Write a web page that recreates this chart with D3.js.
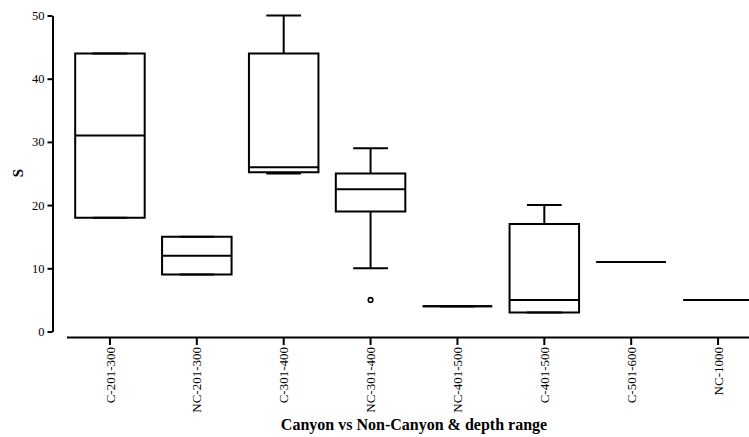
<!DOCTYPE html>
<html>
<head>
<meta charset="utf-8">
<script src="https://cdn.jsdelivr.net/npm/d3@7"></script>
<style>
  body { margin: 0; background: #fff; }
  svg { display: block; }
  .axis text { font-family: "Liberation Serif", "Times New Roman", serif; fill: #000; }
</style>
</head>
<body>
<svg id="chart" width="749" height="437"></svg>
<script>
// values
const groups = ["C-201-300", "NC-201-300", "C-301-400", "NC-301-400", "NC-401-500", "C-401-500", "C-501-600", "NC-1000"];
const lowWhisker = [18, 9, 25, 10, 4, 3, 11, 5];
const q1 = [18, 9, 25.2, 19, 4, 3, 11, 5];
const medians = [31, 12, 26, 22.5, 4, 5, 11, 5];
const q3 = [44, 15, 44, 25, 4, 17, 11, 5];
const highWhisker = [44, 15, 50, 29, 4, 20, 11, 5];
const outliers = [{group: "NC-301-400", value: 5}];
const yTicks = [0, 10, 20, 30, 40, 50];

const boxes = groups.map((g, i) => ({
    name: g, lo: lowWhisker[i], q1: q1[i], med: medians[i], q3: q3[i], hi: highWhisker[i]
}));

const svg = d3.select("#chart");

const x = d3.scaleBand()
    .domain(groups)
    .range([66.5, 761.5])
    .paddingInner(0.2)
    .paddingOuter(0.1);

const y = d3.scaleLinear()
    .domain([0, 50])
    .range([331.5, 15.5]);

// y axis (offset from x axis)
const yAxis = svg.append("g")
    .attr("class", "axis")
    .attr("transform", "translate(52.5,0)")
    .call(d3.axisLeft(y).tickValues(yTicks).tickSize(5).tickSizeOuter(0).tickPadding(3));
yAxis.selectAll("path, line").attr("stroke", "#000").attr("stroke-width", 2);
yAxis.selectAll("text").style("font-size", "12.5px");

// x axis
const xAxis = svg.append("g")
    .attr("class", "axis")
    .attr("transform", "translate(0,337)")
    .call(d3.axisBottom(x).tickSize(8).tickSizeOuter(0));
xAxis.selectAll("path, line").attr("stroke", "#000").attr("stroke-width", 2);
xAxis.selectAll("text")
    .style("font-size", "13px")
    .attr("text-anchor", "end")
    .attr("dy", "0.35em")
    .attr("transform", "rotate(-90)")
    .attr("x", -10)
    .attr("y", 0);

// boxes
const bw = x.bandwidth();
const boxG = svg.append("g")
    .selectAll("g.box")
    .data(boxes)
    .enter()
    .append("g")
    .attr("class", "box")
    .attr("transform", d => `translate(${x(d.name)},0)`);

const lineStyle = sel => sel.attr("stroke", "#000").attr("stroke-width", 2).attr("fill", "none");

// whiskers
boxG.append("line")
    .attr("x1", bw / 2).attr("x2", bw / 2)
    .attr("y1", d => y(d.q3)).attr("y2", d => y(d.hi))
    .call(lineStyle);
boxG.append("line")
    .attr("x1", bw / 2).attr("x2", bw / 2)
    .attr("y1", d => y(d.q1)).attr("y2", d => y(d.lo))
    .call(lineStyle);

// whisker caps
boxG.append("line")
    .attr("x1", bw / 4).attr("x2", bw * 3 / 4)
    .attr("y1", d => y(d.hi)).attr("y2", d => y(d.hi))
    .call(lineStyle);
boxG.append("line")
    .attr("x1", bw / 4).attr("x2", bw * 3 / 4)
    .attr("y1", d => y(d.lo)).attr("y2", d => y(d.lo))
    .call(lineStyle);

// box as a path so that flat boxes still draw
boxG.append("path")
    .attr("d", d => `M0,${y(d.q3)}H${bw}V${y(d.q1)}H0Z`)
    .attr("stroke-linejoin", "miter")
    .call(lineStyle);

// median
boxG.append("line")
    .attr("x1", 0).attr("x2", bw)
    .attr("y1", d => y(d.med)).attr("y2", d => y(d.med))
    .call(lineStyle);

// outliers
svg.append("g")
    .selectAll("circle")
    .data(outliers)
    .enter()
    .append("circle")
    .attr("cx", d => x(d.group) + bw / 2)
    .attr("cy", d => y(d.value))
    .attr("r", 2.3)
    .attr("fill", "#fff")
    .attr("stroke", "#000")
    .attr("stroke-width", 1.6);

// axis titles
svg.append("text")
    .attr("transform", "translate(23,173) rotate(-90)")
    .attr("text-anchor", "middle")
    .style("font-family", "'Liberation Serif', serif")
    .style("font-weight", "bold")
    .style("font-size", "15px")
    .text("S");

svg.append("text")
    .attr("x", 414)
    .attr("y", 430)
    .attr("text-anchor", "middle")
    .style("font-family", "'Liberation Serif', serif")
    .style("font-weight", "bold")
    .style("font-size", "16px")
    .text("Canyon vs Non-Canyon & depth range");
</script>
</body>
</html>
